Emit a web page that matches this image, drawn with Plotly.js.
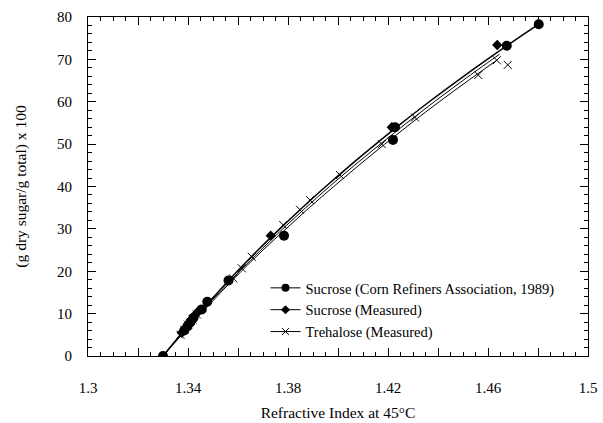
<!DOCTYPE html>
<html><head><meta charset="utf-8">
<script src="https://cdn.plot.ly/plotly-3.0.1.min.js"></script>
<style>html,body{margin:0;padding:0;background:#fff}#chart{width:603px;height:423px}</style>
</head><body><div id="chart"></div>
<script>
// Sucrose (Corn Refiners Association, 1989) - data points and curve
const craX = [1.3300,1.3385,1.3398,1.3410,1.3422,1.3455,1.3477,1.3562,1.3784,1.4220,1.4228,1.4675,1.4803];
const craY = [0,6.0,7.0,8.0,9.0,11.0,12.8,17.8,28.4,51.0,54.0,73.2,78.3];
const craCurveX = [1.3300,1.3370,1.3442,1.3519,1.3597,1.3680,1.3767,1.3857,1.3951,1.4049,1.4151,1.4256,1.4365,1.4479,1.4597,1.4720,1.4803];
const craCurveY = [0,5,10,15,20,25,30,35,40,45,50,55,60,65,70,75,78.3];
// Sucrose (Measured)
const sucX = [1.3375,1.3388,1.3400,1.3412,1.3425,1.3440,1.3731,1.4215,1.4637];
const sucY = [5.5,6.5,7.5,8.5,9.5,10.5,28.4,54.0,73.4];
const sucCurveX = [1.3300,1.3372,1.3446,1.3525,1.3606,1.3691,1.3779,1.3871,1.3966,1.4066,1.4169,1.4275,1.4385,1.4499,1.4617,1.4646];
const sucCurveY = [0,5,10,15,20,25,30,35,40,45,50,55,60,65,70,71.2];
// Trehalose (Measured)
const treX = [1.3370,1.3385,1.3400,1.3418,1.3435,1.3581,1.3615,1.3655,1.3781,1.3848,1.3888,1.4008,1.4175,1.4308,1.4561,1.4635,1.4679];
const treY = [5.0,6.2,7.4,8.6,9.8,18.3,20.7,23.4,30.9,34.5,36.8,42.7,50.0,56.3,66.3,69.8,68.7];
const treCurveX = [1.3300,1.3375,1.3452,1.3531,1.3613,1.3700,1.3792,1.3885,1.3983,1.4083,1.4187,1.4294,1.4405,1.4521,1.4635];
const treCurveY = [0,5,10,15,20,25,30,35,40,45,50,55,60,65,69.8];
// Axis ticks
const xTickVals = [1.30,1.32,1.34,1.36,1.38,1.40,1.42,1.44,1.46,1.48,1.50];
const xTickText = ['1.3','','1.34','','1.38','','1.42','','1.46','','1.5'];
const yTickVals = [0,10,20,30,40,50,60,70,80];
const legendNames = ['Sucrose (Corn Refiners Association, 1989)','Sucrose (Measured)','Trehalose (Measured)'];

const black = '#000';
const traces = [
  {x: craCurveX, y: craCurveY, mode:'lines', line:{color:black,width:1.5,shape:'spline'}, showlegend:false, hoverinfo:'skip'},
  {x: sucCurveX, y: sucCurveY, mode:'lines', line:{color:black,width:1,shape:'spline'}, showlegend:false, hoverinfo:'skip'},
  {x: treCurveX, y: treCurveY, mode:'lines', line:{color:black,width:1,shape:'spline'}, showlegend:false, hoverinfo:'skip'},
  {x: craX, y: craY, mode:'markers', marker:{symbol:'circle',size:10,color:black}, showlegend:false},
  {x: sucX, y: sucY, mode:'markers', marker:{symbol:'diamond',size:8,color:black}, showlegend:false},
  {x: treX, y: treY, mode:'markers', marker:{symbol:'x-thin',size:8,line:{color:black,width:1}}, showlegend:false},
  {x:[null], y:[null], name:legendNames[0], mode:'lines+markers', line:{color:black,width:1}, marker:{symbol:'circle',size:8,color:black}},
  {x:[null], y:[null], name:legendNames[1], mode:'lines+markers', line:{color:black,width:1}, marker:{symbol:'diamond',size:7,color:black}},
  {x:[null], y:[null], name:legendNames[2], mode:'lines+markers', line:{color:black,width:1}, marker:{symbol:'x-thin',size:7,line:{color:black,width:1}}}
];
const fam = 'Liberation Serif, Times New Roman, serif';
const tickFont = {family:fam, size:15, color:black};
const legFont = {family:fam, size:14.5, color:black};
const titleFont = {family:fam, size:15.5, color:black};
const layout = {
  width:603, height:423,
  margin:{l:88, r:15, t:17, b:67},
  paper_bgcolor:'#fff', plot_bgcolor:'#fff',
  font: tickFont,
  showlegend:true,
  legend:{x:0.355, y:0.248, xanchor:'left', yanchor:'top', bgcolor:'rgba(0,0,0,0)', font:legFont, tracegroupgap:0, itemwidth:30},
  xaxis:{range:[1.3,1.5], tickmode:'array', tickvals:xTickVals, ticktext:xTickText, tickfont:tickFont,
    ticks:'inside', ticklen:8, tickwidth:1, tickcolor:black, showline:true, linecolor:black, linewidth:1, mirror:'ticks',
    showgrid:false, zeroline:false, ticklabelstandoff:18,
    minor:{dtick:0.005, tick0:1.3, ticks:'inside', ticklen:4, tickcolor:black, showgrid:false},
    title:{text:'Refractive Index at 45°C', font:titleFont, standoff:12}},
  yaxis:{range:[0,80], tickmode:'array', tickvals:yTickVals, tickfont:tickFont,
    ticks:'inside', ticklen:8, tickwidth:1, tickcolor:black, showline:true, linecolor:black, linewidth:1, mirror:'ticks',
    showgrid:false, zeroline:false, ticklabelstandoff:12,
    minor:{dtick:2, tick0:0, ticks:'inside', ticklen:4, tickcolor:black, showgrid:false},
    title:{text:'(g dry sugar/g total) x 100', font:titleFont, standoff:26}}
};
Plotly.newPlot('chart', traces, layout, {staticPlot:true, displayModeBar:false});
</script>
</body></html>
